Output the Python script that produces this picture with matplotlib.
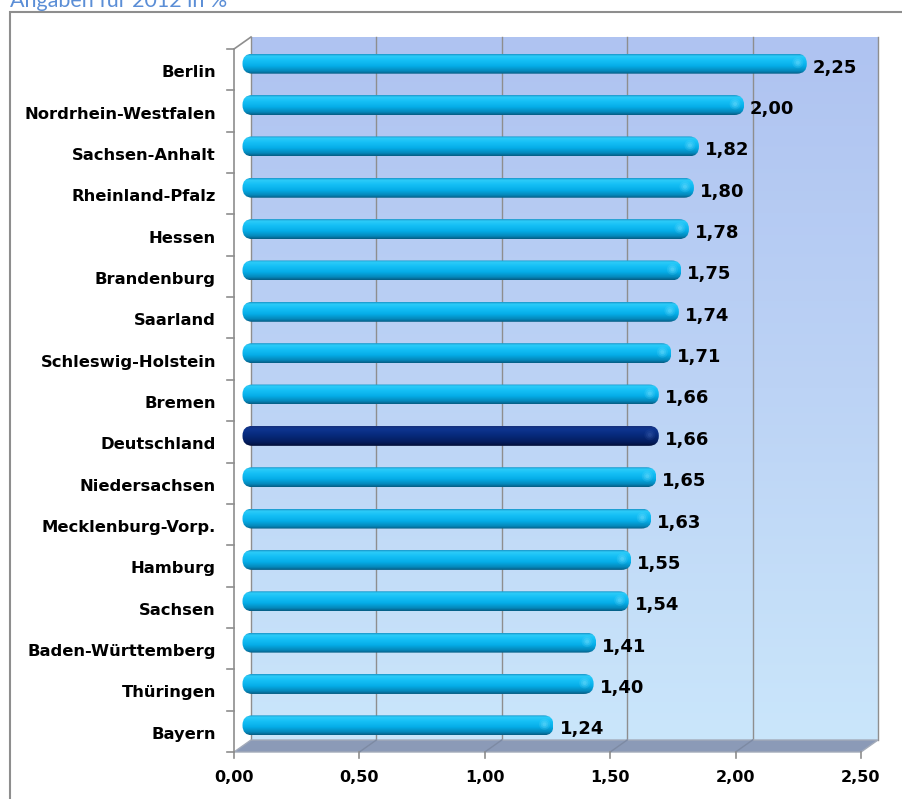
import numpy as np
import matplotlib
matplotlib.use("Agg")
import matplotlib.pyplot as plt
from matplotlib.colors import LinearSegmentedColormap
from matplotlib.patches import FancyBboxPatch, Polygon, Rectangle, Ellipse
from matplotlib.transforms import ScaledTranslation

# Data
laender = ["Berlin", "Nordrhein-Westfalen", "Sachsen-Anhalt", "Rheinland-Pfalz",
           "Hessen", "Brandenburg", "Saarland", "Schleswig-Holstein", "Bremen",
           "Deutschland", "Niedersachsen", "Mecklenburg-Vorp.", "Hamburg",
           "Sachsen", "Baden-Württemberg", "Thüringen", "Bayern"]
werte = [2.25, 2.00, 1.82, 1.80, 1.78, 1.75, 1.74, 1.71, 1.66,
         1.66, 1.65, 1.63, 1.55, 1.54, 1.41, 1.40, 1.24]
hervorgehoben = "Deutschland"
x_ticks = [0.0, 0.5, 1.0, 1.5, 2.0, 2.5]
x_ticklabels = ["0,00", "0,50", "1,00", "1,50", "2,00", "2,50"]
titel = "Angaben für 2012 in %"

W, H, DPI = 903, 799, 100
fig = plt.figure(figsize=(W / DPI, H / DPI), dpi=DPI)

# back wall of the pseudo-3D chart, in pixels
wall_l, wall_r, wall_t, wall_b = 251, 878, 37, 740
n = len(laender)
XMAX = 2.5
PX_X = (wall_r - wall_l) / XMAX
PX_Y = (wall_b - wall_t) / n

# the axes reaches a margin beyond the back wall so the front plane is not clipped
MX, MY = 40, 40   # px
x_lo, x_hi = -MX / PX_X, XMAX + MX / PX_X
y_top, y_bot = -0.5 - MY / PX_Y, n - 0.5 + MY / PX_Y
ax = fig.add_axes([(wall_l - MX) / W, 1 - (wall_b + MY) / H,
                   (wall_r - wall_l + 2 * MX) / W, (wall_b - wall_t + 2 * MY) / H])
ax.axis("off")

DEPTH_X, DEPTH_Y = -17, 12          # px, front plane relative to back wall
DX, DY = DEPTH_X / PX_X, DEPTH_Y / PX_Y
mid = ax.transData + ScaledTranslation(DEPTH_X / 2 / DPI, -DEPTH_Y / 2 / DPI, fig.dpi_scale_trans)

# wall gradient
wall_cmap = LinearSegmentedColormap.from_list("wall", ["#afc3f1", "#bcd3f5", "#cae6fb"])
ax.imshow(np.linspace(0, 1, 256).reshape(-1, 1), cmap=wall_cmap, aspect="auto",
          extent=(0, XMAX, n - 0.5, -0.5), origin="upper", zorder=0)

grid_c = "#8e8e8e"
for t in x_ticks:
    ax.plot([t, t], [-0.5, n - 0.5], color=grid_c, lw=1.0, zorder=1)

# floor
yb = n - 0.5
floor = Polygon([(0, yb), (XMAX, yb), (XMAX + DX, yb + DY), (DX, yb + DY)],
                closed=True, facecolor="#8b9ab7", edgecolor="#a3abb9", lw=1.0, zorder=1)
ax.add_patch(floor)
for t in x_ticks[1:-1]:
    ax.plot([t, t + DX], [yb, yb + DY], color="#7d8aa3", lw=1.0, zorder=1.5)

# left axis (front plane) with ticks between categories
axis_c = "#8e8e8e"
ax.plot([DX, DX], [-0.5 + DY, yb + DY], color=axis_c, lw=1.2, zorder=2)
ax.plot([DX, 0], [-0.5 + DY, -0.5], color=axis_c, lw=1.2, zorder=2)
for k in range(n + 1):
    y = k - 0.5 + DY
    ax.plot([DX - 7 / PX_X, DX], [y, y], color=axis_c, lw=1.2, zorder=2)

# x axis ticks and labels (front plane)
for t, lab in zip(x_ticks, x_ticklabels):
    ax.plot([t + DX, t + DX], [yb + DY, yb + DY + 6 / PX_Y], color=axis_c, lw=1.2, zorder=2)
    ax.text(t + DX, yb + DY + 25 / PX_Y, lab, ha="center", va="center",
            fontsize=11.5, fontweight="bold", family="DejaVu Sans", color="black",
            clip_on=False)

# category labels
for i, name in enumerate(laender):
    ax.text(DX - 18 / PX_X, i + DY + 3 / PX_Y, name, ha="right", va="center",
            fontsize=11.8, fontweight="bold", family="DejaVu Sans", color="black",
            clip_on=False)

# cylinder bars
cyan = LinearSegmentedColormap.from_list("cyan", [
    (0.0, "#1a94c8"), (0.1, "#2ccbf8"), (0.3, "#16c0f6"),
    (0.6, "#05ade8"), (0.85, "#0488bb"), (1.0, "#065c82")])
navy = LinearSegmentedColormap.from_list("navy", [
    (0.0, "#16307a"), (0.15, "#0e3590"), (0.45, "#072a7c"),
    (0.8, "#041d5e"), (1.0, "#020f38")])

bar_h = 20 / PX_Y
rad_px = 9.8
r = rad_px / PX_X
asp = (rad_px / PX_Y) / r
grad = np.linspace(0, 1, 128).reshape(-1, 1)
for i, (name, v) in enumerate(zip(laender, werte)):
    cmap = navy if name == hervorgehoben else cyan
    shape = FancyBboxPatch((0, i - bar_h / 2), v, bar_h,
                           boxstyle=f"round,pad=0,rounding_size={r}",
                           mutation_aspect=asp, facecolor="none", edgecolor="none",
                           transform=mid, zorder=3)
    ax.add_patch(shape)
    im = ax.imshow(grad, cmap=cmap, aspect="auto", origin="upper",
                   extent=(0, v, i + bar_h / 2, i - bar_h / 2), zorder=3)
    im.set_transform(mid)
    im.set_clip_path(shape)
    # glossy spot in the right end cap
    hl = "#7fe3ff" if name != hervorgehoben else "#4062b0"
    for s, a in [(11, 0.14), (7.5, 0.2), (4, 0.28)]:
        ax.add_patch(Ellipse((v - 9 / PX_X, i - 1 / PX_Y), s / PX_X, s / PX_Y,
                             facecolor=hl, edgecolor="none", alpha=a,
                             transform=mid, zorder=4))
    ax.text(v + 6 / PX_X, i + 4 / PX_Y, f"{v:.2f}".replace(".", ","),
            ha="left", va="center", fontsize=13, fontweight="bold",
            family="DejaVu Sans", color="black", transform=mid, clip_on=False, zorder=5)

ax.set_xlim(x_lo, x_hi)
ax.set_ylim(y_bot, y_top)

# frame and heading
fig.patches.append(Rectangle((10 / W, -0.1), 1.2, (H - 12) / H + 0.1,
                             transform=fig.transFigure, facecolor="none",
                             edgecolor="#8e8e8e", lw=1.5))
fig.text(10 / W, 1 - 7 / H, titel, ha="left", va="baseline", fontsize=15.5,
         family="Lato", color="#5b8ed6")

fig.savefig("out.png", dpi=DPI)
